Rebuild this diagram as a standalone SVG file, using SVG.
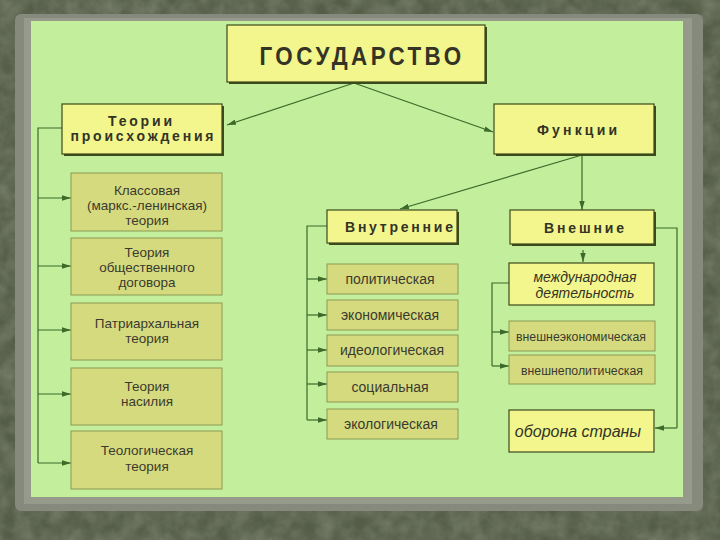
<svg xmlns="http://www.w3.org/2000/svg" width="720" height="540" viewBox="0 0 720 540">
  <defs>
    <filter id="stone" x="0" y="0" width="100%" height="100%">
      <feTurbulence type="fractalNoise" baseFrequency="0.06" numOctaves="3" seed="4" result="n"/>
      <feColorMatrix type="matrix" values="0 0 0 0 0.33  0 0 0 0 0.37  0 0 0 0 0.28  0 0 0 -0.9 0.7" in="n"/>
    </filter>
    <marker id="arr" viewBox="0 0 10 6" refX="10" refY="3" markerWidth="9" markerHeight="5.4" markerUnits="userSpaceOnUse" orient="auto">
      <path d="M0,0 L10,3 L0,6 Z" fill="#3b6a2a"/>
    </marker>
    <style>
      .big { fill: #f2f68c; stroke: #3d4a1c; stroke-width: 1.2; }
      .shadow { fill: #3d4a1c; }
      .small { fill: #d6da7e; stroke: #8c9a52; stroke-width: 1; }
      .hdr { font-family: "Liberation Sans", Arial, sans-serif; font-weight: bold; fill: #333326; text-anchor: middle; }
      .txt { font-family: "Liberation Sans", Arial, sans-serif; font-size: 13.5px; fill: #3a3a2e; text-anchor: middle; }
      .fn { font-family: "Liberation Sans", Arial, sans-serif; font-size: 14px; fill: #3a3a2e; text-anchor: middle; }
      .ext { font-family: "Liberation Sans", Arial, sans-serif; font-size: 12.5px; fill: #3a3a2e; text-anchor: middle; }
      .it { font-family: "Liberation Sans", Arial, sans-serif; font-style: italic; fill: #333326; text-anchor: middle; }
      .ln { fill: none; stroke: #3b6a2a; stroke-width: 1.2; }
    </style>
  </defs>

  <!-- background -->
  <rect x="0" y="0" width="720" height="540" fill="#555d48"/>
  <rect x="0" y="0" width="720" height="540" filter="url(#stone)" opacity="0.7"/>
  <rect x="15" y="14" width="688" height="497" rx="6" fill="#858a7c"/>
  <rect x="24" y="18" width="668" height="486" fill="#959a8b"/>
  <rect x="31" y="21" width="652" height="476" fill="#c3ee9b"/>

  <!-- connectors -->
  <g id="connectors">
    <line class="ln" x1="354" y1="83" x2="227" y2="125" marker-end="url(#arr)"/>
    <line class="ln" x1="354" y1="83" x2="493" y2="132" marker-end="url(#arr)"/>
    <polyline class="ln" points="62,128 38,128 38,463"/>
    <line class="ln" x1="38" y1="198" x2="71" y2="198" marker-end="url(#arr)"/>
    <line class="ln" x1="38" y1="266" x2="71" y2="266" marker-end="url(#arr)"/>
    <line class="ln" x1="38" y1="330" x2="71" y2="330" marker-end="url(#arr)"/>
    <line class="ln" x1="38" y1="394" x2="71" y2="394" marker-end="url(#arr)"/>
    <line class="ln" x1="38" y1="463" x2="71" y2="463" marker-end="url(#arr)"/>
    <line class="ln" x1="582" y1="155" x2="400" y2="209" marker-end="url(#arr)"/>
    <line class="ln" x1="582" y1="155" x2="582" y2="210" marker-end="url(#arr)"/>
    <polyline class="ln" points="327,226 307,226 307,420"/>
    <line class="ln" x1="307" y1="279" x2="327" y2="279" marker-end="url(#arr)"/>
    <line class="ln" x1="307" y1="315" x2="327" y2="315" marker-end="url(#arr)"/>
    <line class="ln" x1="307" y1="350" x2="327" y2="350" marker-end="url(#arr)"/>
    <line class="ln" x1="307" y1="384" x2="327" y2="384" marker-end="url(#arr)"/>
    <line class="ln" x1="307" y1="420" x2="327" y2="420" marker-end="url(#arr)"/>
    <line class="ln" x1="583" y1="250" x2="583" y2="262" marker-end="url(#arr)"/>
    <polyline class="ln" points="509,283 492,283 492,366"/>
    <line class="ln" x1="492" y1="332" x2="509" y2="332" marker-end="url(#arr)"/>
    <line class="ln" x1="492" y1="366" x2="509" y2="366" marker-end="url(#arr)"/>
    <polyline class="ln" points="654,228 677,228 677,428"/>
    <line class="ln" x1="677" y1="428" x2="655" y2="428" marker-end="url(#arr)"/>
  </g>

  <!-- nodes -->
  <g id="gosudarstvo">
    <rect class="shadow" x="229" y="27" width="258" height="57"/>
    <rect class="big" x="227" y="25" width="258" height="57"/>
    <text class="hdr" x="362" y="65" font-size="26" letter-spacing="4" textLength="205" lengthAdjust="spacingAndGlyphs">ГОСУДАРСТВО</text>
  </g>

  <g id="teorii">
    <rect class="shadow" x="64" y="106" width="160" height="50"/>
    <rect class="big" x="62" y="104" width="160" height="50"/>
    <text class="hdr" x="140" y="126" font-size="14" textLength="64" lengthAdjust="spacing">Теории</text>
    <text class="hdr" x="142" y="141" font-size="14" textLength="143" lengthAdjust="spacing">происхождения</text>
  </g>

  <g id="funkcii">
    <rect class="shadow" x="496" y="106" width="160" height="50"/>
    <rect class="big" x="494" y="104" width="160" height="50"/>
    <text class="hdr" x="577" y="135" font-size="14" textLength="80" lengthAdjust="spacing">Функции</text>
  </g>

  <g id="klassovaya">
    <rect class="small" x="71" y="173" width="151" height="58"/>
    <text class="txt"><tspan x="147" y="195">Классовая</tspan><tspan x="147" y="210">(маркс.-ленинская)</tspan><tspan x="147" y="225">теория</tspan></text>
  </g>
  <g id="dogovor">
    <rect class="small" x="71" y="238" width="151" height="57"/>
    <text class="txt"><tspan x="147" y="257">Теория</tspan><tspan x="147" y="272">общественного</tspan><tspan x="147" y="287">договора</tspan></text>
  </g>
  <g id="patriarh">
    <rect class="small" x="71" y="303" width="151" height="57"/>
    <text class="txt"><tspan x="147" y="328">Патриархальная</tspan><tspan x="147" y="343">теория</tspan></text>
  </g>
  <g id="nasilie">
    <rect class="small" x="71" y="368" width="151" height="57"/>
    <text class="txt"><tspan x="147" y="391">Теория</tspan><tspan x="147" y="406">насилия</tspan></text>
  </g>
  <g id="teolog">
    <rect class="small" x="71" y="431" width="151" height="58"/>
    <text class="txt"><tspan x="147" y="455">Теологическая</tspan><tspan x="147" y="471">теория</tspan></text>
  </g>

  <g id="vnutrennie">
    <rect class="shadow" x="329" y="212" width="130" height="33"/>
    <rect class="big" x="327" y="210" width="130" height="33"/>
    <text class="hdr" x="399" y="232" font-size="14" textLength="108" lengthAdjust="spacing">Внутренние</text>
  </g>
  <g id="politicheskaya">
    <rect class="small" x="327" y="264" width="131" height="30"/>
    <text class="fn" x="390" y="284">политическая</text>
  </g>
  <g id="ekonomicheskaya">
    <rect class="small" x="327" y="300" width="131" height="30"/>
    <text class="fn" x="390" y="320">экономическая</text>
  </g>
  <g id="ideologicheskaya">
    <rect class="small" x="327" y="335" width="131" height="31"/>
    <text class="fn" x="392" y="355">идеологическая</text>
  </g>
  <g id="socialnaya">
    <rect class="small" x="327" y="372" width="131" height="30"/>
    <text class="fn" x="390" y="392">социальная</text>
  </g>
  <g id="ekologicheskaya">
    <rect class="small" x="327" y="409" width="131" height="30"/>
    <text class="fn" x="391" y="429">экологическая</text>
  </g>

  <g id="vneshnie">
    <rect class="shadow" x="512" y="212" width="144" height="34"/>
    <rect class="big" x="510" y="210" width="144" height="34"/>
    <text class="hdr" x="584" y="233" font-size="14" textLength="80" lengthAdjust="spacing">Внешние</text>
  </g>
  <g id="mezhdunar">
    <rect class="big" x="509" y="263" width="145" height="42"/>
    <text class="it" font-size="14"><tspan x="585" y="282">международная</tspan><tspan x="585" y="298">деятельность</tspan></text>
  </g>
  <g id="vneshneekon">
    <rect class="small" x="509" y="321" width="146" height="30"/>
    <text class="ext" x="581" y="341" textLength="130" lengthAdjust="spacingAndGlyphs">внешнеэкономическая</text>
  </g>
  <g id="vneshnepolit">
    <rect class="small" x="509" y="355" width="146" height="29"/>
    <text class="ext" x="582" y="375" textLength="122" lengthAdjust="spacingAndGlyphs">внешнеполитическая</text>
  </g>
  <g id="oborona">
    <rect class="big" x="509" y="410" width="145" height="42"/>
    <text class="it" x="578" y="437" font-size="16">оборона страны</text>
  </g>
</svg>
